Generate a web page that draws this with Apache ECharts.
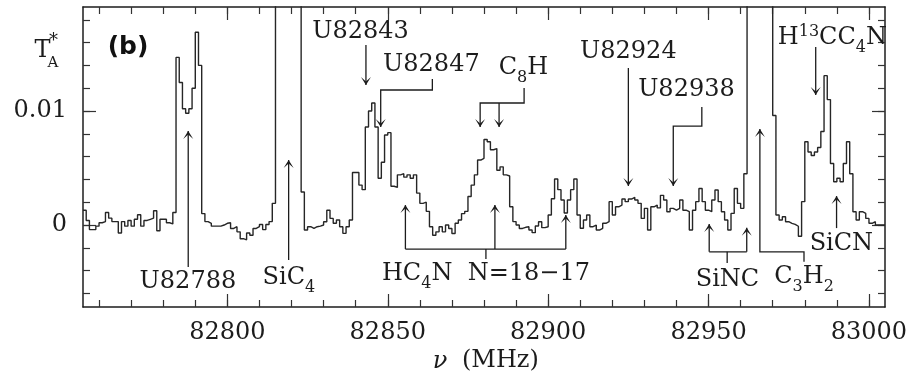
<!DOCTYPE html>
<html>
<head>
<meta charset="utf-8">
<title>Spectrum 82755–83005 MHz</title>
<script src="https://cdn.jsdelivr.net/npm/echarts@6.0.0/dist/echarts.min.js"></script>
<style>
  html, body { margin: 0; padding: 0; background: #fff; }
  #chart { width: 911px; height: 377px; }
</style>
</head>
<body>
<div id="chart"></div>
<script>
// Spectrum: one T_A* value (K) per 1 MHz channel; channel i spans
// [freqStart + i*chanWidth, freqStart + (i+1)*chanWidth]
const freqStart = 82755;
const chanWidth = 1;
const tempK = [
  0.0013, 0.0004, -0.0004, -0.0004, -0.0001, 0.0002, 0.0003, 0.0011, 0.0006, 0.0003,
  0.0003, -0.0007, 0.0003, -0.0001, 0.0004, -0.0001, 0.0005, 0.0009, -0.0001, 0.0004,
  0.0005, 0.0006, 0.00125, -0.0005, 0.0005, 0.0005, 0.0002, 0.0001, 0.0011, 0.0147,
  0.0125, 0.0102, 0.0098, 0.0102, 0.0120, 0.0169, 0.0140, 0.0010, 0.0003, 0.00015,
  -0.0001, -0.0001, -0.0001, 0.0000, 0.00015, 0.0002, -0.0003, -0.00015, -0.0006, -0.0012,
  -0.0013, -0.0007, -0.0009, -0.0003, -0.00015, 0.00005, -0.0004, 0.00005, 0.0003, 0.0019,
  0.025, 0.040, 0.060, 0.075, 0.070, 0.055, 0.038, 0.024, 0.0029, -0.00044,
  -0.00015, -0.00029, -0.00015, -0.0001, 0.0000, 0.00029, 0.0013, 0.00058, 0.00015, 0.00044,
  -0.00015, -0.00073, -0.00015, 0.00044, 0.0046, 0.0046, 0.0035, 0.0031, 0.0086, 0.0100,
  0.0107, 0.0086, 0.0041, 0.0055, 0.0079, 0.0081, 0.0034, 0.0033, 0.0044, 0.0045,
  0.0042, 0.0044, 0.0041, 0.0044, 0.0028, 0.0019, 0.0020, 0.0012, -0.00015, -0.0009,
  -0.0006, -0.00015, -0.0006, 0.0000, -0.0003, -0.00075, 0.00015, 0.00044, 0.0010, 0.0012,
  0.0025, 0.0035, 0.0044, 0.0057, 0.00585, 0.0075, 0.0073, 0.0066, 0.0067, 0.0048,
  0.0051, 0.0044, 0.0043, 0.0016, 0.0003, 0.0000, -0.0003, -0.0002, -0.00015, -0.00044,
  -0.00067, -0.00008, 0.00029, -0.00023, -0.00015, 0.00088, 0.0023, 0.00404, 0.0031, 0.0022,
  0.00105, 0.0022, 0.0031, 0.00404, 0.00088, -0.00029, 0.00044, 0.00088, -0.00015, 0.0000,
  -0.00044, -0.00029, 0.00015, 0.00029, 0.00205, 0.00088, 0.0016, 0.00175, 0.00228, 0.00205,
  0.00228, 0.00243, 0.00219, 0.0019, 0.00058, 0.00146, -0.00044, 0.0016, 0.00175, 0.0015,
  0.0026, 0.0022, 0.00117, 0.00146, 0.0013, 0.00146, 0.0022, 0.0013, 0.00117, -0.00044,
  0.0013, 0.00205, 0.0032, 0.00205, 0.0013, 0.00117, 0.0022, 0.00307, 0.00205, 0.00117,
  0.00044, -0.00044, 0.00102, 0.0032, 0.0019, 0.00146, 0.0045, 0.023, 0.038, 0.058,
  0.072, 0.068, 0.050, 0.034, 0.022, 0.0096, 0.00088, 0.00044, 0.00073, 0.00029,
  0.00015, 0.00006, -0.00011, -0.00099, 0.00205, 0.0073, 0.0064, 0.0061, 0.0064, 0.0068,
  0.0082, 0.0131, 0.0110, 0.0054, 0.0038, 0.0041, 0.0038, 0.0054, 0.0073, 0.0045,
  0.00117, 0.00044, 0.00117, 0.00102, 0.00058, 0.00015, 0.00029, 0.0000, 0.0000, 0.0000
];

// Axis extents and tick positions
const xRange = [82755, 83005];
const yRange = [-0.00719, 0.01912];
const xMajorTicks = [82800, 82850, 82900, 82950, 83000];
const xMinorTicks = [82760, 82770, 82780, 82790, 82800, 82810, 82820, 82830, 82840, 82850,
  82860, 82870, 82880, 82890, 82900, 82910, 82920, 82930, 82940, 82950,
  82960, 82970, 82980, 82990, 83000];
const yMajorTicks = [0, 0.01];
const yMinorTicks = [-0.006, -0.004, -0.002, 0, 0.002, 0.004, 0.006, 0.008, 0.01,
  0.012, 0.014, 0.016, 0.018];

// Line identifications: label (m = normal, s = subscript, u = superscript)
// and the centre of its main text (MHz, K)
const lineLabels = [
  { text: '{m|U82788}', at: [82787.7, -0.00500] },
  { text: '{m|SiC}{s|4}', at: [82819.2, -0.00465] },
  { text: '{m|U82843}', at: [82841.5, 0.01693] },
  { text: '{m|U82847}', at: [82863.6, 0.01403] },
  { text: '{m|C}{s|8}{m|H}', at: [82892.3, 0.01377] },
  { text: '{m|U82924}', at: [82925.0, 0.01520] },
  { text: '{m|U82938}', at: [82943.1, 0.01188] },
  { text: '{m|H}{u|13}{m|CC}{s|4}{m|N}', at: [82988.6, 0.01644] },
  { text: '{m|HC}{s|4}{m|N  N=18\u221217}', at: [82880.6, -0.00426] },
  { text: '{m|SiNC}', at: [82955.9, -0.00483] },
  { text: '{m|C}{s|3}{m|H}{s|2}', at: [82979.75, -0.00452] },
  { text: '{m|SiCN}', at: [82991.4, -0.00167] }
];

// Pointer paths (MHz, K); an arrowhead is drawn at the last point when head is set
const pointers = [
  { pts: [[82787.8, -0.00369], [82787.8, 0.00824]], head: true },
  { pts: [[82819.1, -0.00307], [82819.1, 0.00570]], head: true },
  { pts: [[82843.2, 0.01579], [82843.2, 0.01228]], head: true },
  { pts: [[82863.9, 0.01280], [82863.9, 0.01184], [82847.8, 0.01184], [82847.8, 0.00859]], head: true },
  { pts: [[82892.5, 0.01201], [82892.5, 0.01070], [82878.8, 0.01070], [82878.8, 0.00859]], head: true },
  { pts: [[82884.7, 0.01070], [82884.7, 0.00859]], head: true },
  { pts: [[82925.0, 0.01377], [82925.0, 0.00342]], head: true },
  { pts: [[82947.9, 0.01035], [82947.9, 0.00868], [82939.0, 0.00868], [82939.0, 0.00342]], head: true },
  { pts: [[82983.4, 0.01561], [82983.4, 0.01140]], head: true },
  { pts: [[82880.6, -0.00298], [82880.6, -0.00211]], head: false },
  { pts: [[82855.5, -0.00211], [82905.5, -0.00211]], head: false },
  { pts: [[82855.5, -0.00211], [82855.5, 0.00175]], head: true },
  { pts: [[82883.4, -0.00211], [82883.4, 0.00175]], head: true },
  { pts: [[82905.5, -0.00211], [82905.5, 0.00088]], head: true },
  { pts: [[82955.8, -0.00334], [82955.8, -0.00235]], head: false },
  { pts: [[82950.2, -0.00235], [82961.9, -0.00235]], head: false },
  { pts: [[82950.2, -0.00235], [82950.2, 0.00008]], head: true },
  { pts: [[82961.9, -0.00235], [82961.9, -0.00024]], head: true },
  { pts: [[82979.75, -0.00322], [82979.75, -0.00235], [82966.0, -0.00235], [82966.0, 0.00842]], head: true },
  { pts: [[82989.9, -0.00027], [82989.9, 0.00254]], head: true }
];

const ink = '#1c1c1c';
const serif = '"DejaVu Serif", "Liberation Serif", serif';

// Token styles: font and vertical shift of the token centre from the main text centre
const tokenStyle = {
  m: { font: '24px ' + serif, dy: 0 },
  s: { font: '16px ' + serif, dy: 10 },
  u: { font: '16px ' + serif, dy: -6 }
};

const measureCtx = document.createElement('canvas').getContext('2d');
function textWidth(str, font) {
  measureCtx.font = font;
  return measureCtx.measureText(str).width;
}

function parseTokens(str) {
  const out = [];
  const re = /\{(\w)\|([^}]*)\}/g;
  let m;
  while ((m = re.exec(str)) !== null) out.push({ k: m[1], t: m[2] });
  return out;
}

// Lays out a label with sub/superscripts as separate text pieces centred on (cx, cy)
function labelPieces(str, cx, cy) {
  const toks = parseTokens(str).map(tk => {
    const st = tokenStyle[tk.k];
    return { t: tk.t, st: st, w: textWidth(tk.t, st.font) };
  });
  const total = toks.reduce((s, tk) => s + tk.w, 0);
  let x = cx - total / 2;
  return toks.map(tk => {
    const el = {
      type: 'text',
      x: x,
      y: cy + tk.st.dy,
      style: { text: tk.t, font: tk.st.font, fill: ink, align: 'left', verticalAlign: 'middle' }
    };
    x += tk.w;
    return el;
  });
}

// Step-line points at channel lower edges, plus the final upper edge
const spectrum = tempK.map((t, i) => [freqStart + i * chanWidth, t]);
spectrum.push([freqStart + tempK.length * chanWidth, tempK[tempK.length - 1]]);

function frameAxis(position, range, ticks, len, opts) {
  const ax = {
    type: 'value',
    position: position,
    min: range[0],
    max: range[1],
    splitLine: { show: false },
    axisLine: { show: !!opts.line, onZero: false, lineStyle: { color: ink, width: 1.5 } },
    axisTick: { show: true, inside: true, length: len, customValues: ticks,
      lineStyle: { color: '#333', width: 1.2 } },
    axisLabel: { show: false }
  };
  if (opts.labels) {
    ax.axisLabel = {
      show: true,
      customValues: ticks,
      fontFamily: serif,
      fontSize: 24,
      color: ink,
      margin: opts.margin,
      formatter: v => String(v)
    };
  }
  return ax;
}

const chart = echarts.init(document.getElementById('chart'), null, { renderer: 'canvas' });

chart.setOption({
  animation: false,
  backgroundColor: '#fff',
  grid: { left: 83, right: 26, top: 7, bottom: 70, containLabel: false },
  xAxis: [
    frameAxis('bottom', xRange, xMajorTicks, 13, { line: true, labels: true, margin: 14 }),
    frameAxis('bottom', xRange, xMinorTicks, 7, {}),
    frameAxis('top', xRange, xMajorTicks, 13, { line: true }),
    frameAxis('top', xRange, xMinorTicks, 7, {})
  ],
  yAxis: [
    frameAxis('left', yRange, yMajorTicks, 13, { line: true, labels: true, margin: 16 }),
    frameAxis('left', yRange, yMinorTicks, 7, {}),
    frameAxis('right', yRange, yMajorTicks, 13, { line: true }),
    frameAxis('right', yRange, yMinorTicks, 7, {})
  ],
  graphic: [
    { type: 'text', x: 128, y: 47, style: { text: '(b)', align: 'center', verticalAlign: 'middle',
      font: 'bold 25px "DejaVu Sans", sans-serif', fill: '#111' } },
    { type: 'text', x: 42.5, y: 51, style: { text: 'T', align: 'center', verticalAlign: 'middle',
      font: '24px ' + serif, fill: ink } },
    { type: 'text', x: 53, y: 63, style: { text: 'A', align: 'center', verticalAlign: 'middle',
      font: '15px ' + serif, fill: ink } },
    { type: 'text', x: 53.5, y: 41, style: { text: '*', align: 'center', verticalAlign: 'middle',
      font: '18px ' + serif, fill: ink } },
    { type: 'text', x: 440, y: 362, style: { text: '\u03bd', align: 'center', verticalAlign: 'middle',
      font: 'italic 24px ' + serif, fill: ink } },
    { type: 'text', x: 462, y: 361, style: { text: '(MHz)', align: 'left', verticalAlign: 'middle',
      font: '24px ' + serif, fill: ink } }
  ],
  series: [
    {
      name: 'T_A*',
      type: 'line',
      step: 'end',
      data: spectrum,
      xAxisIndex: 0,
      yAxisIndex: 0,
      showSymbol: false,
      clip: true,
      lineStyle: { color: '#262626', width: 1.4 },
      emphasis: { disabled: true },
      z: 3
    },
    {
      name: 'pointers',
      type: 'custom',
      xAxisIndex: 0,
      yAxisIndex: 0,
      clip: false,
      silent: true,
      data: pointers.map(p => p.pts[p.pts.length - 1]),
      renderItem: function (params, api) {
        const p = pointers[params.dataIndex];
        const px = p.pts.map(q => api.coord(q));
        const children = [{
          type: 'polyline',
          shape: { points: px },
          style: { stroke: ink, lineWidth: 1.3, fill: null }
        }];
        if (p.head) {
          const a = px[px.length - 1];
          const b = px[px.length - 2];
          const dx = a[0] - b[0], dy = a[1] - b[1];
          const n = Math.hypot(dx, dy) || 1;
          const ux = dx / n, uy = dy / n;
          const L = 8, W = 5, N = 3.5;
          children.push({
            type: 'polygon',
            shape: { points: [
              [a[0], a[1]],
              [a[0] - ux * L - uy * W, a[1] - uy * L + ux * W],
              [a[0] - ux * N, a[1] - uy * N],
              [a[0] - ux * L + uy * W, a[1] - uy * L - ux * W]
            ] },
            style: { fill: ink }
          });
        }
        return { type: 'group', children: children };
      },
      z: 4
    },
    {
      name: 'line labels',
      type: 'custom',
      xAxisIndex: 0,
      yAxisIndex: 0,
      clip: false,
      silent: true,
      data: lineLabels.map(l => l.at),
      renderItem: function (params, api) {
        const l = lineLabels[params.dataIndex];
        const c = api.coord(l.at);
        return { type: 'group', children: labelPieces(l.text, c[0], c[1]) };
      },
      z: 5
    }
  ]
});
</script>
</body>
</html>
